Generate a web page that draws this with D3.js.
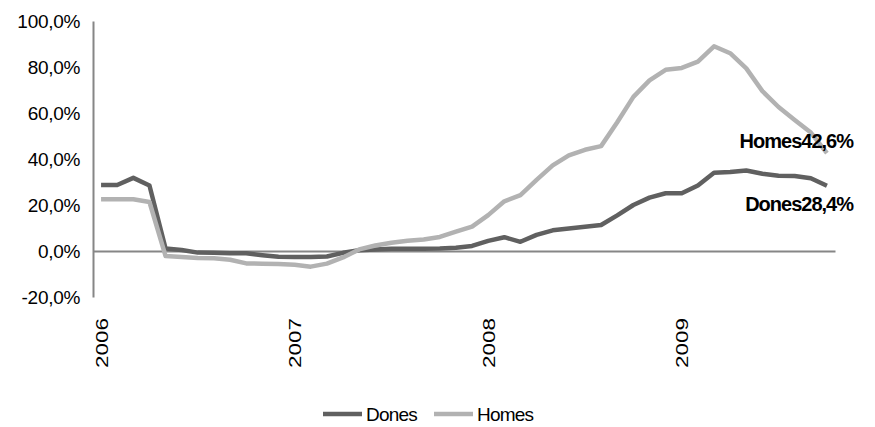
<!DOCTYPE html>
<html><head><meta charset="utf-8">
<script src="https://cdn.jsdelivr.net/npm/d3@7"></script>
<style>body{margin:0;background:#fff}svg{display:block}</style>
</head><body>
<svg id="c" width="875" height="427"></svg>
<script>
const months = d3.range(46).map(i => { const y = 2006 + Math.floor(i/12), m = i%12 + 1; return y + "-" + String(m).padStart(2,"0"); });
const dones = [28.7,28.7,31.8,28.5,1.1,0.4,-0.7,-0.8,-1.0,-1.0,-1.8,-2.5,-2.6,-2.6,-2.4,-0.8,0.3,0.6,1.0,1.0,1.0,1.1,1.4,2.2,4.4,6.0,4.0,7.0,9.0,9.8,10.5,11.3,15.5,20.0,23.2,25.1,25.1,28.5,34.0,34.3,35.0,33.6,32.7,32.6,31.6,28.4];
const homes = [22.5,22.5,22.5,21.3,-2.2,-2.6,-3.0,-3.2,-3.8,-5.4,-5.5,-5.6,-6.0,-6.8,-5.5,-2.8,0.7,2.4,3.6,4.5,5.0,6.1,8.4,10.6,15.6,21.6,24.3,30.9,37.2,41.6,44.0,45.6,56.0,67.0,74.2,78.8,79.6,82.3,89.0,86.0,79.4,69.5,62.6,57.0,51.5,42.6];
const yTicks = [-20,0,20,40,60,80,100];
const xTickLabels = ["2006-01","2007-01","2008-01","2009-01"];
const seriesNames = ["Dones","Homes"];
const endLabels = ["Dones28,4%","Homes42,6%"];
const colors = ["#606060","#b2b2b2"];

const svg = d3.select("#c");
const x = d3.scalePoint().domain(months).range([93,835]).padding(0.5);
const y = d3.scaleLinear().domain([-20,100]).range([297,21]);
const fmt = v => v.toFixed(1).replace(".", ",") + "%";

// y axis
const ya = svg.append("g").attr("transform","translate(93,0)").call(d3.axisLeft(y).tickValues(yTicks).tickSize(0).tickPadding(13).tickFormat(fmt));
ya.select(".domain").attr("stroke","#868686").attr("stroke-width",2);
ya.selectAll("text").attr("font-family","Liberation Sans, Arial, sans-serif").attr("font-size",19).attr("fill","#000").attr("letter-spacing","-0.3");

// zero line / x axis
const xa = svg.append("g").attr("transform",`translate(0,${y(0)})`).call(d3.axisBottom(x).tickValues(xTickLabels).tickSize(0).tickFormat(d => d.slice(0,4)));
xa.select(".domain").attr("stroke","#868686").attr("stroke-width",2);
xa.selectAll("text")
  .attr("font-family","Liberation Sans, Arial, sans-serif").attr("font-size",17).attr("fill","#000")
  .attr("text-anchor","start").attr("dy","0.35em")
  .attr("transform",`translate(0,${368-y(0)}) rotate(-90)`).attr("y",0).attr("x",0)
  .attr("textLength",50).attr("lengthAdjust","spacingAndGlyphs");

// lines
const line = d3.line().x((d,i) => x(months[i])).y(d => y(d));
[dones, homes].forEach((s,k) => {
  svg.append("path").datum(s).attr("fill","none").attr("stroke",colors[k]).attr("stroke-width",4.5).attr("stroke-linejoin","round").attr("d",line);
});

// end labels
const endY = [211, 148];
endLabels.forEach((t,k) => {
  svg.append("text").attr("x",853).attr("y",endY[k]).attr("text-anchor","end")
    .attr("font-family","Liberation Sans, Arial, sans-serif").attr("font-weight","bold").attr("font-size",20).attr("letter-spacing","-1")
    .attr("fill","#000").text(t);
});

// legend
const legX = [323, 434];
seriesNames.forEach((n,k) => {
  const g = svg.append("g").attr("transform",`translate(${legX[k]},414)`);
  g.append("line").attr("x1",0).attr("x2",39).attr("y1",0).attr("y2",0).attr("stroke",colors[k]).attr("stroke-width",4.5);
  g.append("text").attr("x",43).attr("y",0).attr("dy","0.35em").attr("font-family","Liberation Sans, Arial, sans-serif").attr("font-size",19).attr("letter-spacing","-0.8").attr("fill","#000").text(n);
});
</script>
</body></html>
